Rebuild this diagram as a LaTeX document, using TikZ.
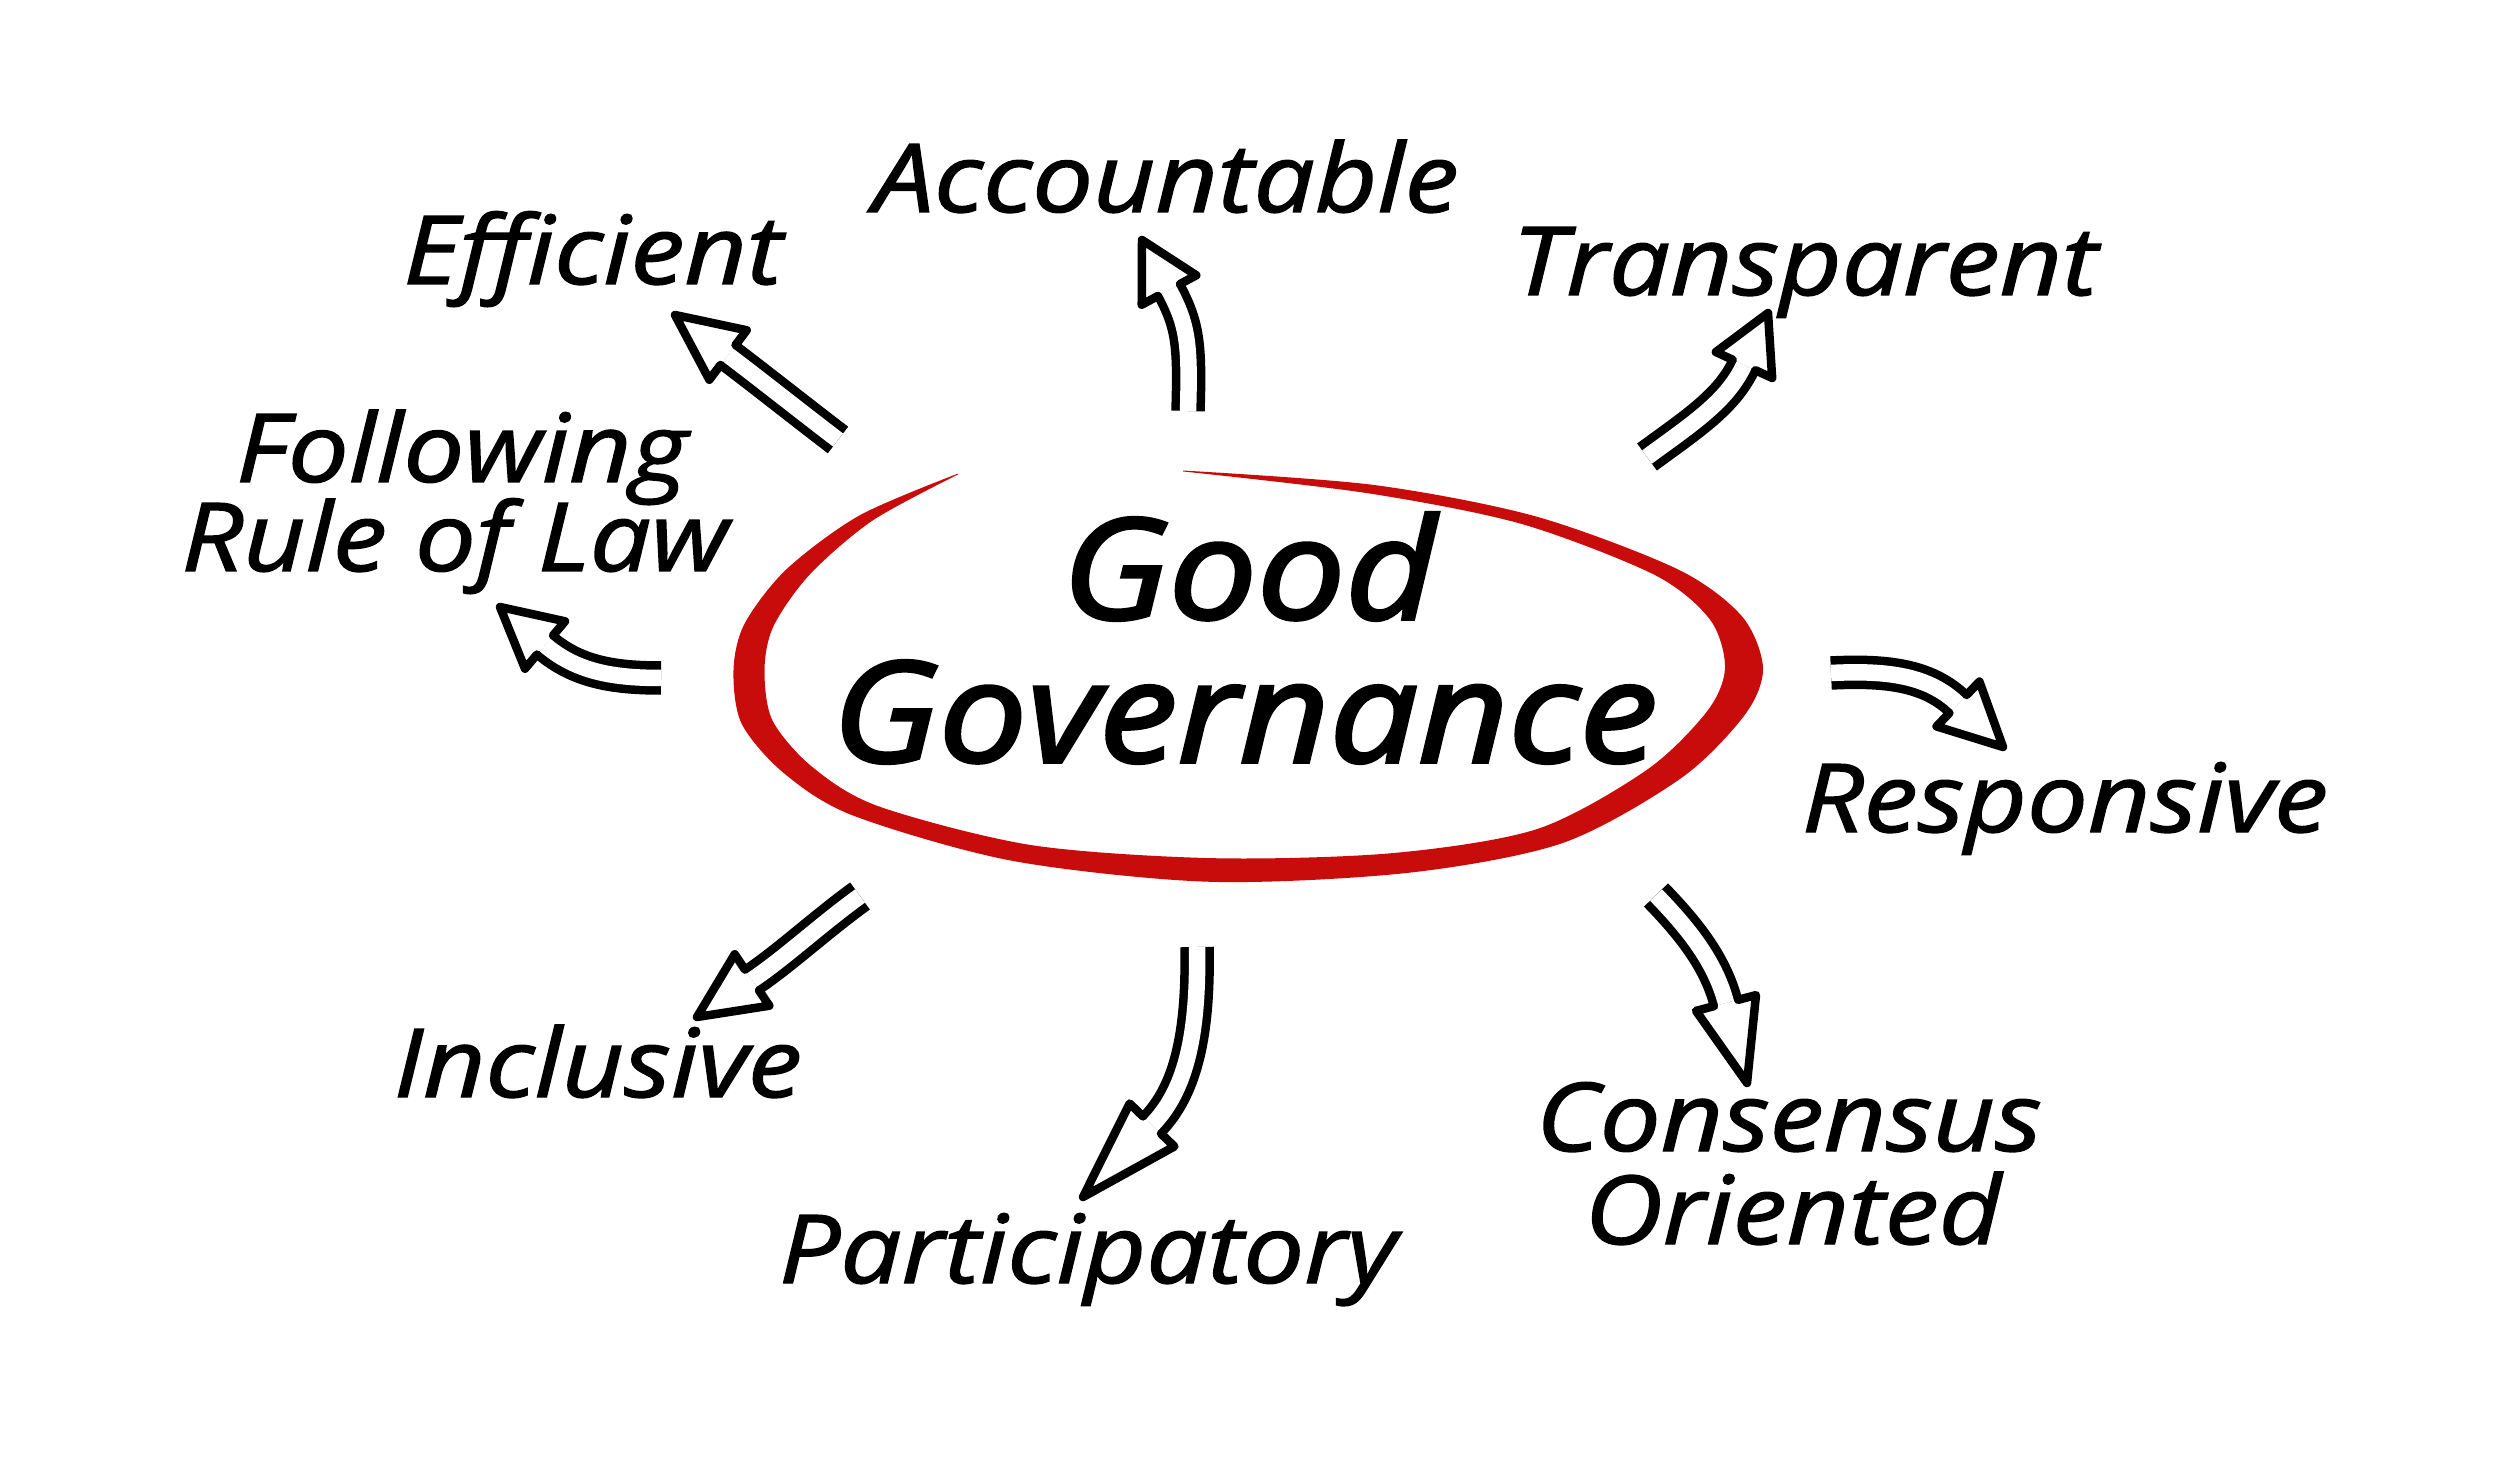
\documentclass[tikz,border=0pt]{standalone}
\usepackage{fontspec}
\setmainfont{Open Sans}
\newfontfamily\handfont{Open Sans}[ItalicFeatures={FakeBold=1.5, FakeStretch=1.14}]
\newfontfamily\handtitlefont{Open Sans}[ItalicFeatures={FakeBold=2.5, FakeStretch=1.12}]
\usetikzlibrary{calc}
\definecolor{ringred}{RGB}{200,12,12}
\def\pxu{0.4pt}
\tikzset{
  shaftline/.style={draw=black, line width=3.4pt, double=white, double distance=6.6pt, line cap=butt},
  headline/.style={draw=black, fill=white, line width=3.4pt, line join=round, line cap=round},
  lbl/.style={anchor=base, inner sep=0pt, font=\handfont\itshape\fontsize{38}{40}\selectfont},
  title/.style={anchor=base, inner sep=0pt, font=\handtitlefont\itshape\fontsize{56}{60}\selectfont},
}
\newcommand\hollowarrow[1]{%
  \coordinate (#1-c2) at ($(#1-B)!-40*\pxu!(#1-T)$);
  \draw[shaftline] (#1-S) .. controls (#1-C) and (#1-c2) .. (#1-B);
  \filldraw[headline] ($(#1-B)!12.5*\pxu!90:(#1-T)$) -- ($(#1-B)!31*\pxu!90:(#1-T)$) -- (#1-T) -- ($(#1-B)!31*\pxu!-90:(#1-T)$) -- ($(#1-B)!12.5*\pxu!-90:(#1-T)$);
}
\begin{document}
\begin{tikzpicture}[x=0.4pt, y=-0.4pt]
\fill[white] (0,0) rectangle (2500,1464);
\useasboundingbox (0,0) rectangle (2500,1464);

% red ring
\coordinate (C) at (1250,670);
\foreach \i/\x/\y/\w in {0/958/474/1, 1/866/518/14, 2/798/572/24, 3/759/625/29, 4/749/670/31,
  5/757/722/31, 6/798/770/29, 7/866/811/27, 8/1022/853/25, 9/1212/870/24, 10/1400/863/25,
  11/1550/836/29, 12/1664/774/35, 13/1726/713/38, 14/1744/668/38, 15/1726/618/32,
  16/1666/572/24, 17/1528/520/16, 18/1370/489/10, 19/1183/471/1} {
  \coordinate (c\i) at (\x,\y);
  \coordinate (o\i) at ($(c\i)!\w*0.2pt!180:(C)$);
  \coordinate (n\i) at ($(c\i)!\w*0.2pt!(C)$);
}
\fill[ringred] plot[smooth] coordinates {(o0) (o1) (o2) (o3) (o4) (o5) (o6) (o7) (o8) (o9) (o10) (o11) (o12) (o13) (o14) (o15) (o16) (o17) (o18) (o19)}
  -- plot[smooth] coordinates {(n19) (n18) (n17) (n16) (n15) (n14) (n13) (n12) (n11) (n10) (n9) (n8) (n7) (n6) (n5) (n4) (n3) (n2) (n1) (n0)} -- cycle;

% titles
\node[title] (good) at (1249,619) {Good};
\node[title] (gov) at (1245,762) {Governance};

% labels
\node[lbl] (acc) at (1166,212) {Accountable};
\node[lbl] (eff) at (593,284) {Efficient};
\node[lbl] (tra) at (1805,295) {Transparent};
\node[lbl] (fol) at (462,482) {Following};
\node[lbl] (rul) at (455,571) {Rule of Law};
\node[lbl] (res) at (2065,832) {Responsive};
\node[lbl] (inc) at (598,1097) {Inclusive};
\node[lbl] (par) at (1088,1283) {Participatory};
\node[lbl] (con) at (1789,1151) {Consensus};
\node[lbl] (ori) at (1793,1244) {Oriented};

% arrows
\coordinate (ae-S) at (838,440); \coordinate (ae-C) at (800,411); \coordinate (ae-B) at (728,355); \coordinate (ae-T) at (675,315);
\hollowarrow{ae}
\coordinate (aa-S) at (1188,411); \coordinate (aa-C) at (1190,345); \coordinate (aa-B) at (1169,290); \coordinate (aa-T) at (1142,240);
\hollowarrow{aa}
\coordinate (at-S) at (1647,457); \coordinate (at-C) at (1692,424); \coordinate (at-B) at (1744,365); \coordinate (at-T) at (1768,313);
\hollowarrow{at}
\coordinate (ar-S) at (661,678); \coordinate (ar-C) at (610,678); \coordinate (ar-B) at (545,645); \coordinate (ar-T) at (500,607);
\hollowarrow{ar}
\coordinate (ap-S) at (1831,673); \coordinate (ap-C) at (1890,670); \coordinate (ap-B) at (1958,704); \coordinate (ap-T) at (2003,747);
\hollowarrow{ap}
\coordinate (apa-S) at (1197,947); \coordinate (apa-C) at (1199,1050); \coordinate (apa-B) at (1152,1125); \coordinate (apa-T) at (1083,1197);
\hollowarrow{apa}
\coordinate (ac-S) at (1656,895); \coordinate (ac-C) at (1692,932); \coordinate (ac-B) at (1726,1003); \coordinate (ac-T) at (1747,1083);
\hollowarrow{ac}
\coordinate (ai-S) at (860,896); \coordinate (ai-C) at (820,925); \coordinate (ai-B) at (752,980); \coordinate (ai-T) at (697,1017);
\hollowarrow{ai}
\end{tikzpicture}
\end{document}
